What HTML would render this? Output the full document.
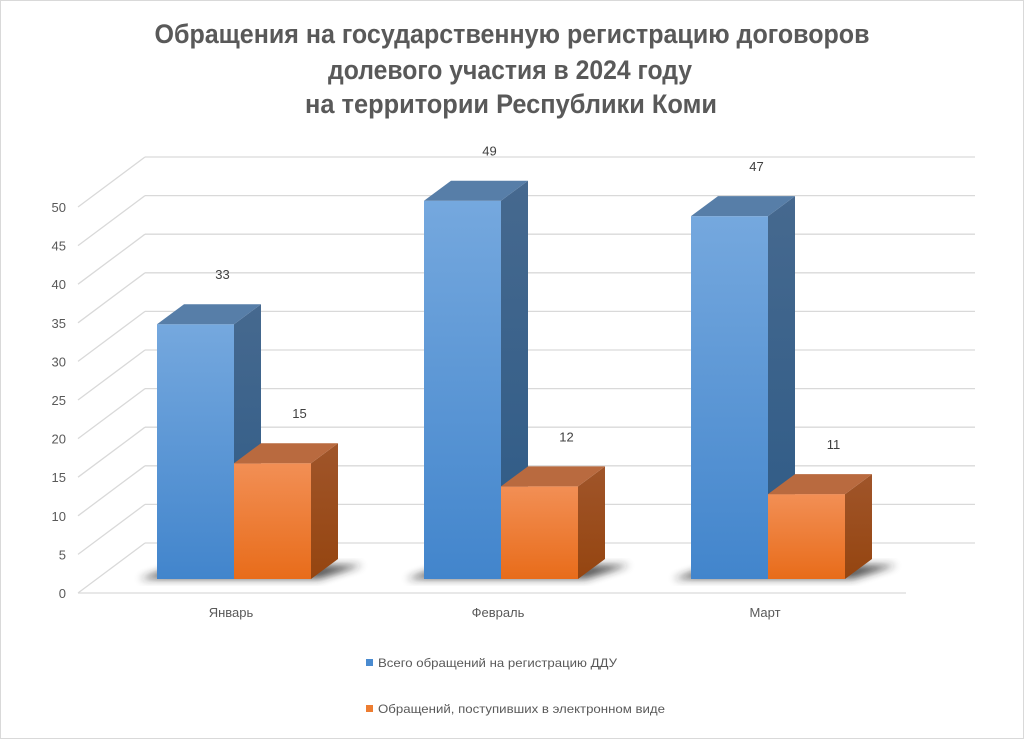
<!DOCTYPE html>
<html><head><meta charset="utf-8">
<style>
html,body{margin:0;padding:0;background:#fff;}
svg{display:block;font-family:"Liberation Sans",sans-serif;}
</style></head>
<body>
<svg id="chart" width="1024" height="739" viewBox="0 0 1024 739" xmlns="http://www.w3.org/2000/svg">
<defs>
<linearGradient id="gBlue" x1="0" y1="0" x2="0" y2="1"><stop offset="0" stop-color="#75a8de"/><stop offset="1" stop-color="#4285cc"/></linearGradient>
<linearGradient id="gBlueS" x1="0" y1="0" x2="0" y2="1"><stop offset="0" stop-color="#46698f"/><stop offset="1" stop-color="#2d5a86"/></linearGradient>
<linearGradient id="gOr" x1="0" y1="0" x2="0" y2="1"><stop offset="0" stop-color="#f28f55"/><stop offset="1" stop-color="#e86c1a"/></linearGradient>
<linearGradient id="gOrS" x1="0" y1="0" x2="0" y2="1"><stop offset="0" stop-color="#a0552a"/><stop offset="1" stop-color="#954510"/></linearGradient>
<filter id="blur" x="-20%" y="-50%" width="140%" height="200%"><feGaussianBlur stdDeviation="4"/></filter>
</defs>
<rect x="0.5" y="0.5" width="1023" height="738" fill="#fff" stroke="#d9d9d9"/>
<g fill="#595959" font-family="'Liberation Sans Narrow','Liberation Sans',sans-serif" font-weight="bold" font-size="27" text-anchor="middle">
<text x="512" y="43" textLength="715" lengthAdjust="spacingAndGlyphs">Обращения на государственную регистрацию договоров</text>
<text x="510" y="79" textLength="364" lengthAdjust="spacingAndGlyphs">долевого участия в 2024 году</text>
<text x="511" y="113" textLength="412" lengthAdjust="spacingAndGlyphs">на территории Республики Коми</text>
</g>
<g id="grid"></g>
<g id="yaxis"></g>
<g id="bars"></g>
<g id="xaxis"></g>
<g font-size="12" fill="#595959">
<g>
<rect x="366" y="659" width="7" height="7" fill="#4a8bd0"/>
<text x="378" y="667" textLength="239" lengthAdjust="spacingAndGlyphs">Всего обращений на регистрацию ДДУ</text>
</g>
<g>
<rect x="366" y="705" width="7" height="7" fill="#ed7d31"/>
<text x="378" y="713" textLength="287" lengthAdjust="spacingAndGlyphs">Обращений, поступивших в электронном виде</text>
</g>
</g>
</svg>
<script>
const categories = ["Январь", "Февраль", "Март"];
const totalValues = [33, 49, 47];
const electronicValues = [15, 12, 11];
const yTicks = [0, 5, 10, 15, 20, 25, 30, 35, 40, 45, 50];

const NS = "http://www.w3.org/2000/svg";
const unit = 7.72;
const yFront = v => 593 - v * unit;
const yBack = v => 543 - v * unit;
const yBar = v => 579 - v * unit;
const groupX = i => 157 + i * 267;
const barW = 77, dx = 27, dy = 20;
function mk(tag, attrs, parent) {
  const e = document.createElementNS(NS, tag);
  for (const k in attrs) e.setAttribute(k, attrs[k]);
  parent.appendChild(e);
  return e;
}
const grid = document.getElementById("grid");
const yaxis = document.getElementById("yaxis");
mk("line", {x1: 78, y1: 593, x2: 906, y2: 593, stroke: "#d9d9d9", "stroke-width": 1.3}, grid);
yTicks.forEach(t => {
  const l = mk("line", {x1: 145, y1: yBack(t), x2: 975, y2: yBack(t), stroke: "#d9d9d9", "stroke-width": 1.3}, grid);
  
  
  const d = mk("line", {x1: 78, y1: yFront(t), x2: 145, y2: yBack(t), stroke: "#d9d9d9", "stroke-width": 1.3}, grid);
  
  
  const tx = mk("text", {x: 66, y: yFront(t) + 5, "text-anchor": "end", "font-size": 13, fill: "#595959"}, yaxis);
  tx.textContent = t;
  
  
});
const bars = document.getElementById("bars");
const xaxis = document.getElementById("xaxis");
function bar(x, v, front, side, top, name) {
  const g = mk("g", {}, bars);
  
  
  const yt = yBar(v), yb = yBar(0);
  mk("rect", {x: x, y: yt, width: barW, height: yb - yt, fill: front}, g);
  mk("polygon", {points: `${x+barW},${yt} ${x+barW+dx},${yt-dy} ${x+barW+dx},${yb-dy} ${x+barW},${yb}`, fill: side}, g);
  mk("polygon", {points: `${x},${yt} ${x+dx},${yt-dy} ${x+barW+dx},${yt-dy} ${x+barW},${yt}`, fill: top}, g);
  const lb = mk("text", {x: x + barW / 2 + dx, y: yt - dy - 25, "text-anchor": "middle", "font-size": 13, fill: "#404040"}, bars);
  lb.textContent = v;
  
  
}
categories.forEach((c, i) => {
  const x = groupX(i);
  const sh = mk("polygon", {points: `${x-18},${yBar(0)} ${x+dx-5},${yBar(0)-dy+6} ${x+2*barW+dx+25},${yBar(0)-dy+6} ${x+2*barW+8},${yBar(0)}`, fill: "#222", opacity: 0.75, filter: "url(#blur)"}, bars);
  
  
  bar(x, totalValues[i], "url(#gBlue)", "url(#gBlueS)", "#577ea8", "bar-total-" + c);
  bar(x + barW, electronicValues[i], "url(#gOr)", "url(#gOrS)", "#b96a3f", "bar-electronic-" + c);
  const t = mk("text", {x: x + barW - 3, y: 617, "text-anchor": "middle", "font-size": 13, fill: "#595959"}, xaxis);
  t.textContent = c;
  
  
});
</script>
</body></html>
